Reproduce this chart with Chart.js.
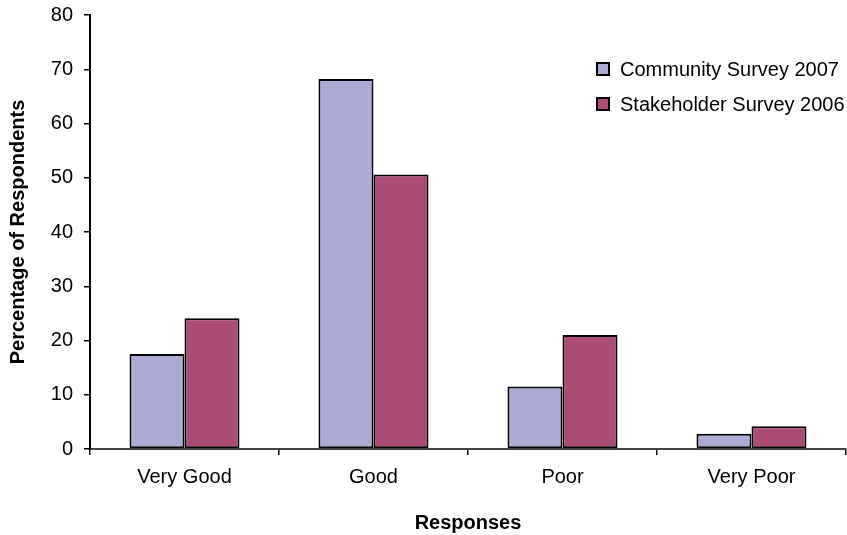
<!DOCTYPE html>
<html>
<head>
<meta charset="utf-8">
<script src="https://cdn.jsdelivr.net/npm/chart.js@4/dist/chart.umd.min.js"></script>
<style>
html,body{margin:0;padding:0;background:#fff;}
#wrap{width:847px;height:535px;position:relative;}
</style>
</head>
<body>
<div id="wrap"><canvas id="c" width="847" height="535"></canvas></div>
<script>
const categories = ["Very Good", "Good", "Poor", "Very Poor"];
const community2007 = [17.5, 68.2, 11.5, 2.8];
const stakeholder2006 = [24.1, 50.6, 21.0, 4.2];
const seriesNames = ["Community Survey 2007", "Stakeholder Survey 2006"];
const yTicks = [0, 10, 20, 30, 40, 50, 60, 70, 80];

const FONT = "'Liberation Sans', Arial, sans-serif";

const legendPlugin = {
  id: 'insetLegend',
  afterDraw(chart) {
    const ctx = chart.ctx;
    const x0 = 597, y0 = 69, gap = 35, box = 12;
    ctx.save();
    ctx.font = "20px " + FONT;
    ctx.textBaseline = 'middle';
    chart.data.datasets.forEach((ds, i) => {
      const y = y0 + i * gap;
      ctx.fillStyle = ds.backgroundColor;
      ctx.fillRect(x0, y - box / 2, box, box);
      ctx.lineWidth = 2;
      ctx.strokeStyle = '#000';
      ctx.strokeRect(x0, y - box / 2, box, box);
      ctx.fillStyle = '#000';
      ctx.fillText(ds.label, x0 + 23, y + 1);
    });
    ctx.restore();
  }
};

new Chart(document.getElementById('c'), {
  type: 'bar',
  data: {
    labels: categories,
    datasets: [
      { label: seriesNames[0], data: community2007, backgroundColor: '#ABABD6', borderColor: '#000', borderWidth: 2, borderSkipped: false },
      { label: seriesNames[1], data: stakeholder2006, backgroundColor: '#AD4B77', borderColor: '#000', borderWidth: 2, borderSkipped: false }
    ]
  },
  options: {
    responsive: false,
    animation: false,
    devicePixelRatio: 1,
    layout: { padding: { top: 15, right: 1, left: 0, bottom: 0 } },
    plugins: { legend: { display: false }, tooltip: { enabled: false } },
    datasets: { bar: { categoryPercentage: 0.582, barPercentage: 1.0 } },
    scales: {
      x: {
        offset: true,
        grid: { display: true, drawOnChartArea: false, offset: true, tickLength: 6, color: '#000', lineWidth: 1.5 },
        border: { display: true, color: '#444', width: 2 },
        ticks: { color: '#000', font: { family: FONT, size: 20 }, padding: 10, maxRotation: 0 },
        title: { display: true, text: 'Responses', color: '#000', font: { family: FONT, size: 20, weight: 'bold' }, padding: { top: 0, bottom: 0 } },
        afterFit(scale) { scale.height = 86; scale.paddingLeft = 0; scale.paddingRight = 0; }
      },
      y: {
        min: 0, max: 80,
        afterBuildTicks(scale) { scale.ticks = yTicks.map(v => ({ value: v })); },
        grid: { display: true, drawOnChartArea: false, tickLength: 6, color: '#000', lineWidth: 1.5 },
        border: { display: true, color: '#000', width: 2 },
        ticks: { color: '#000', font: { family: FONT, size: 20 }, padding: 11 },
        title: { display: true, text: 'Percentage of Respondents', color: '#000', font: { family: FONT, size: 20, weight: 'bold' }, padding: { top: 6, bottom: 0 } },
        afterFit(scale) { scale.width = 90; scale.paddingTop = 0; scale.paddingBottom = 0; }
      }
    }
  },
  plugins: [legendPlugin]
});
</script>
</body>
</html>
